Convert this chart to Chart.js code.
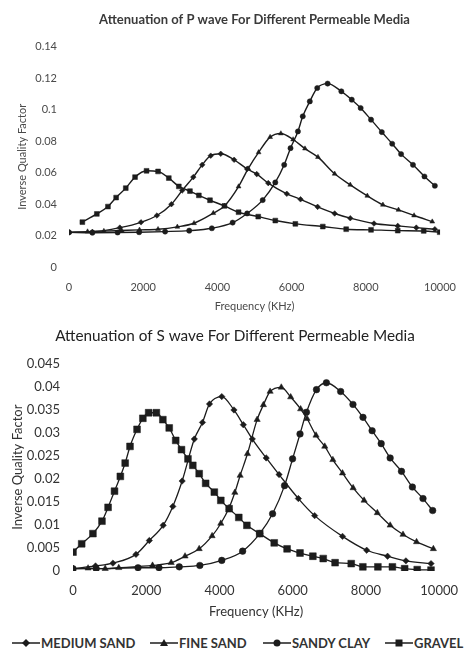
<!DOCTYPE html>
<html><head><meta charset="utf-8">
<script src="https://cdn.jsdelivr.net/npm/chart.js@4.4.1/dist/chart.umd.min.js"></script>
<style>
html,body{margin:0;padding:0;background:#fff;width:470px;height:655px;overflow:hidden;font-family:Lato,sans-serif}
#c1{position:absolute;left:0;top:0}
#c2{position:absolute;left:0;top:318px}
#legend{position:absolute;left:0;top:634px;width:470px;height:18px}
.item{position:absolute;top:0;height:18px;display:flex;align-items:center;font:bold 13px Lato,sans-serif;color:#333;white-space:nowrap}
.item svg{margin-right:1px}
</style></head><body>
<canvas id="c1" width="470" height="318"></canvas>
<canvas id="c2" width="470" height="307"></canvas>
<div id="legend"></div>
<script>
// ---------- DATA ----------
const seriesNames = ['MEDIUM SAND', 'FINE SAND', 'SANDY CLAY', 'GRAVEL'];
const xTicks = [0, 2000, 4000, 6000, 8000, 10000];
const yTicksP = [0, 0.02, 0.04, 0.06, 0.08, 0.1, 0.12, 0.14];
const yTicksS = [0, 0.005, 0.01, 0.015, 0.02, 0.025, 0.03, 0.035, 0.04, 0.045];

// P wave
const pMediumF = [0, 630, 1370, 1940, 2370, 2760, 3050, 3350, 3590, 3820, 4090, 4450, 4800, 5060, 5370, 5870, 6240, 6700, 7160, 7580, 8220, 8860, 9360, 9860];
const pMediumV = [0.022, 0.0223, 0.025, 0.0284, 0.0327, 0.0399, 0.0486, 0.0571, 0.0649, 0.0707, 0.0719, 0.0681, 0.0623, 0.059, 0.0533, 0.0465, 0.043, 0.0382, 0.034, 0.031, 0.0276, 0.0261, 0.025, 0.024];
const pFineF = [0, 500, 940, 1420, 1900, 2400, 2920, 3370, 3890, 4190, 4570, 4830, 5110, 5420, 5710, 6040, 6360, 6710, 7160, 7580, 8040, 8460, 8880, 9300, 9790];
const pFineV = [0.022, 0.0225, 0.0228, 0.0232, 0.0236, 0.024, 0.0255, 0.0278, 0.0342, 0.0388, 0.0511, 0.0625, 0.0728, 0.0825, 0.0848, 0.081, 0.0752, 0.0698, 0.0592, 0.0522, 0.0452, 0.0395, 0.0363, 0.0327, 0.0288];
const pClayF = [0, 630, 1310, 1890, 2590, 3240, 3850, 4410, 4800, 5220, 5560, 5800, 5970, 6170, 6300, 6490, 6690, 6970, 7340, 7620, 7860, 8140, 8430, 8710, 8950, 9270, 9580, 9860];
const pClayV = [0.022, 0.0218, 0.0219, 0.0221, 0.0225, 0.0231, 0.0246, 0.0282, 0.034, 0.0425, 0.0537, 0.0649, 0.0755, 0.0861, 0.0957, 0.1052, 0.1137, 0.1165, 0.1116, 0.1063, 0.101, 0.0936, 0.0857, 0.0783, 0.0717, 0.0649, 0.0575, 0.0516];
const pGravelF = [360, 750, 1050, 1270, 1530, 1780, 2090, 2400, 2690, 2960, 3260, 3500, 3800, 4190, 4570, 5100, 5560, 6100, 6840, 7470, 8140, 8860, 9560, 9990];
const pGravelV = [0.0285, 0.0337, 0.0384, 0.0441, 0.0501, 0.0571, 0.0611, 0.0607, 0.0565, 0.0512, 0.0482, 0.0455, 0.0424, 0.0388, 0.0348, 0.032, 0.0295, 0.0274, 0.0257, 0.024, 0.0236, 0.0231, 0.0229, 0.0221];

// S wave
const sMediumF = [0, 615, 1090, 1720, 2084, 2462, 2726, 2981, 3314, 3536, 3728, 4063, 4396, 4652, 4897, 5277, 5628, 6155, 6600, 7361, 8021, 8591, 9092, 9778];
const sMediumV = [0.0005, 0.0011, 0.0017, 0.0036, 0.0066, 0.0099, 0.014, 0.0195, 0.0286, 0.0322, 0.0362, 0.0378, 0.0349, 0.0317, 0.0286, 0.0245, 0.0209, 0.0157, 0.012, 0.0075, 0.0045, 0.0032, 0.0022, 0.0016];
const sFineF = [0, 412, 879, 1250, 2172, 2681, 3060, 3446, 3799, 4037, 4264, 4420, 4565, 4765, 5029, 5200, 5383, 5689, 5945, 6217, 6393, 6638, 6876, 7097, 7361, 7651, 7950, 8311, 8662, 9013, 9383, 9842];
const sFineV = [0.0005, 0.0006, 0.0005, 0.0007, 0.0012, 0.0018, 0.0032, 0.0048, 0.0076, 0.0103, 0.0137, 0.017, 0.0207, 0.0254, 0.0328, 0.036, 0.0389, 0.0398, 0.0377, 0.0351, 0.033, 0.0294, 0.027, 0.0241, 0.0212, 0.018, 0.0153, 0.0126, 0.0099, 0.0079, 0.0063, 0.0048];
const sClayF = [0, 633, 1776, 2348, 2902, 3464, 4063, 4633, 5100, 5451, 5778, 5997, 6200, 6376, 6650, 6921, 7310, 7646, 7920, 8169, 8417, 8662, 8971, 9269, 9559, 9823];
const sClayV = [0.0005, 0.0005, 0.0007, 0.0007, 0.0009, 0.0012, 0.0023, 0.0043, 0.0081, 0.0124, 0.0185, 0.0243, 0.0297, 0.0344, 0.0393, 0.0408, 0.0389, 0.0361, 0.0333, 0.0304, 0.0276, 0.0245, 0.0216, 0.0182, 0.0157, 0.0131];
const sGravelF = [0, 237, 544, 791, 958, 1134, 1293, 1425, 1557, 1749, 1908, 2066, 2277, 2454, 2628, 2805, 2963, 3140, 3272, 3446, 3623, 3860, 4037, 4264, 4528, 4749, 5100, 5496, 5847, 6200, 6551, 6834, 7158, 7599, 7916, 8327, 8723, 9058, 9401, 9778];
const sGravelV = [0.0041, 0.0059, 0.0081, 0.0108, 0.0138, 0.0173, 0.0205, 0.0234, 0.027, 0.0307, 0.0331, 0.0343, 0.0343, 0.0328, 0.031, 0.0283, 0.0263, 0.0243, 0.0229, 0.0211, 0.019, 0.0171, 0.0153, 0.0135, 0.0116, 0.0099, 0.0081, 0.0061, 0.0048, 0.0039, 0.0032, 0.0027, 0.0018, 0.0016, 0.0009, 0.0009, 0.0009, 0.0005, 0.0003, 0.0002];

// ---------- BUILD ----------
const LINE = '#1c1c1c';
function ds(label, fs, vs, style, r, bw) {
  return {
    label, data: fs.map((f, i) => ({ x: f, y: vs[i] })),
    showLine: true, borderColor: LINE, backgroundColor: LINE,
    borderWidth: bw, pointStyle: style, pointRadius: r, pointHoverRadius: r,
    pointBorderWidth: 0.5, pointBorderColor: LINE, pointBackgroundColor: LINE,
    cubicInterpolationMode: 'monotone', fill: false
  };
}

function makeChart(id, cfg) {
  const tc = cfg.textColor;
  return new Chart(document.getElementById(id), {
    type: 'scatter',
    data: { datasets: cfg.datasets },
    options: {
      responsive: false, animation: false, devicePixelRatio: 1,
      layout: { padding: { left: cfg.padLeft, right: cfg.padRight, top: 0, bottom: 0 } },
      plugins: {
        legend: { display: false }, tooltip: { enabled: false },
        title: { display: true, text: cfg.title, color: cfg.titleColor, fullSize: cfg.titleFull,
          font: { family: 'Lato', size: cfg.titleSize, weight: cfg.titleWeight },
          padding: { top: cfg.titlePadTop, bottom: cfg.titlePadBottom } }
      },
      scales: {
        x: {
          type: 'linear', min: 0, max: 10000,
          afterBuildTicks: s => { s.ticks = xTicks.map(v => ({ value: v })); },
          afterFit: s => { s.height = cfg.xAxisHeight; },
          grid: { display: false, drawTicks: false }, border: { display: false },
          ticks: { color: tc, font: { family: 'Lato', size: cfg.tickSize }, padding: cfg.xTickPad, maxRotation: 0, callback: v => String(v) },
          title: { display: true, text: 'Frequency (KHz)', color: tc,
            font: { family: 'Lato', size: cfg.axisTitleSize }, padding: { top: 0, bottom: cfg.xTitlePadBottom } }
        },
        y: {
          min: 0, max: cfg.yMax,
          afterBuildTicks: s => { s.ticks = cfg.yTicks.map(v => ({ value: v })); },
          afterFit: s => { s.width = cfg.yAxisWidth; },
          grid: { display: false, drawTicks: false }, border: { display: false },
          ticks: { color: tc, font: { family: 'Lato', size: cfg.tickSize }, padding: cfg.yTickPad, callback: v => String(v) },
          title: { display: true, text: 'Inverse Quality Factor', color: tc,
            font: { family: 'Lato', size: cfg.axisTitleSize }, padding: { top: cfg.yTitlePadTop, bottom: 0 } }
        }
      }
    }
  });
}

makeChart('c1', {
  title: 'Attenuation of P wave For Different Permeable Media',
  titleSize: 13, titleWeight: 'bold', titleColor: '#3a3a3a', titlePadTop: 12, titlePadBottom: 19, titleFull: false,
  textColor: '#4a4a4a', tickSize: 11, axisTitleSize: 11,
  padLeft: 0, padRight: 17, xAxisHeight: 51, xTickPad: 14, xTitlePadBottom: 5,
  yAxisWidth: 69, yTickPad: 12, yTitlePadTop: 16,
  yMax: 0.14, yTicks: yTicksP,
  datasets: [
    ds(seriesNames[0], pMediumF, pMediumV, 'rectRot', 2.8, 1.4),
    ds(seriesNames[1], pFineF, pFineV, 'triangle', 2.8, 1.4),
    ds(seriesNames[2], pClayF, pClayV, 'circle', 2.6, 1.4),
    ds(seriesNames[3], pGravelF, pGravelV, 'rect', 3.4, 1.4)
  ]
});

makeChart('c2', {
  title: 'Attenuation of S wave For Different Permeable Media',
  titleSize: 15.3, titleWeight: 'normal', titleColor: '#222', titlePadTop: 9, titlePadBottom: 18, titleFull: true,
  textColor: '#333', tickSize: 13, axisTitleSize: 13,
  padLeft: 18, padRight: 18, xAxisHeight: 54, xTickPad: 12, xTitlePadBottom: 5,
  yAxisWidth: 55, yTickPad: 13, yTitlePadTop: -7.8,
  yMax: 0.045, yTicks: yTicksS,
  datasets: [
    ds(seriesNames[0], sMediumF, sMediumV, 'rectRot', 3.2, 1.3),
    ds(seriesNames[1], sFineF, sFineV, 'triangle', 3.6, 1.3),
    ds(seriesNames[2], sClayF, sClayV, 'circle', 3.3, 1.3),
    ds(seriesNames[3], sGravelF, sGravelV, 'rect', 4.8, 1.3)
  ]
});

// ---------- LEGEND ----------
const legendLeft = [12, 150, 263, 385];
const markerSvg = [
  '<polygon points="14,5 18,9 14,13 10,9" fill="#1c1c1c"/>',
  '<polygon points="14,5 18,12 10,12" fill="#1c1c1c"/>',
  '<circle cx="14" cy="9" r="3.5" fill="#1c1c1c"/>',
  '<rect x="10.5" y="5.5" width="7" height="7" fill="#1c1c1c"/>'
];
const leg = document.getElementById('legend');
seriesNames.forEach((n, i) => {
  const d = document.createElement('div');
  d.className = 'item';
  d.style.left = legendLeft[i] + 'px';
  d.innerHTML = '<svg width="28" height="18"><line x1="0" y1="9" x2="28" y2="9" stroke="#1c1c1c" stroke-width="1.5"/>' + markerSvg[i] + '</svg><span>' + n + '</span>';
  leg.appendChild(d);
});
</script></body></html>
